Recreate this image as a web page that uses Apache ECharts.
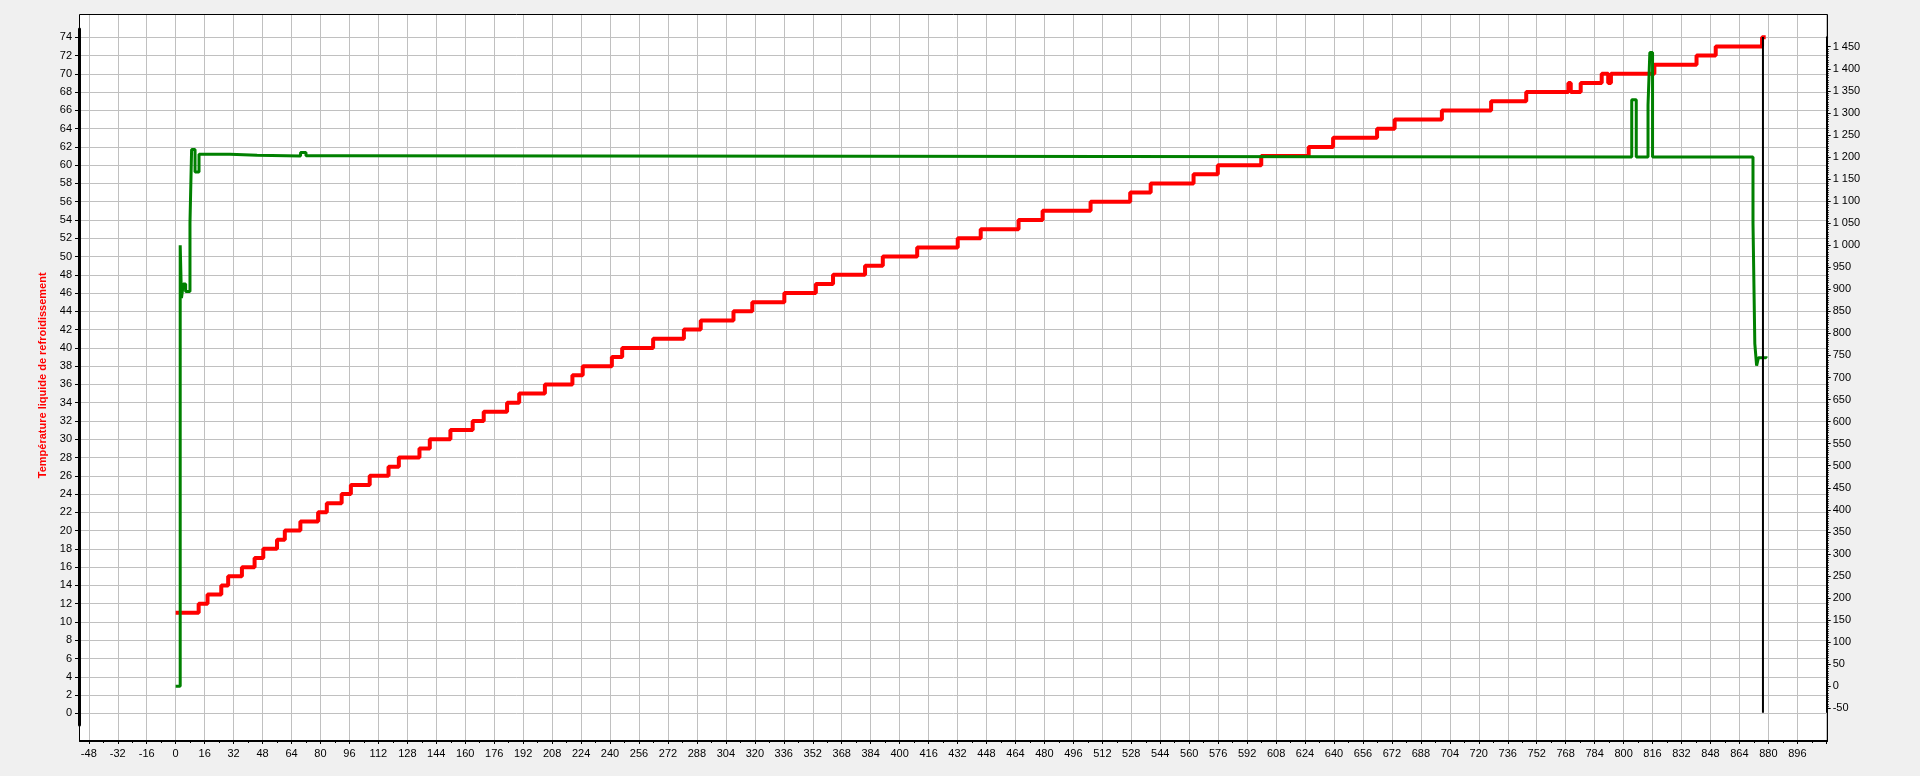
<!DOCTYPE html>
<html><head><meta charset="utf-8">
<script src="https://cdn.jsdelivr.net/npm/echarts@6/dist/echarts.min.js"></script>
<style>html,body{margin:0;padding:0;background:#f0f0f0;}#c{width:1920px;height:776px;}</style>
</head><body><div id="c"></div><script>
// ---- data ----
// Coolant temperature (left axis, °C), step transitions: time -> new value
const redTime = [0, 12.7, 17.6, 25.2, 29.0, 36.6, 43.6, 48.4, 56.0, 60.3, 68.9, 78.7, 83.5, 91.7, 96.8, 107.2, 117.6, 123.3, 134.7, 140.4, 151.8, 164.1, 170.2, 183.1, 189.8, 204.0, 219.2, 224.9, 241.0, 246.7, 263.8, 280.8, 290.1, 308.2, 318.6, 336.3, 353.7, 363.2, 380.9, 390.7, 409.7, 432.1, 444.8, 465.7, 479.0, 505.5, 527.4, 538.7, 562.4, 575.8, 599.8, 626.0, 639.5, 663.8, 673.5, 699.6, 726.8, 746.2, 769.5, 770.8, 776.3, 787.9, 791.5, 793.0, 817.0, 840.3, 850.9, 876.5, 878.5];
const redTemp = [11, 12, 13, 14, 15, 16, 17, 18, 19, 20, 21, 22, 23, 24, 25, 26, 27, 28, 29, 30, 31, 32, 33, 34, 35, 36, 37, 38, 39, 40, 41, 42, 43, 44, 45, 46, 47, 48, 49, 50, 51, 52, 53, 54, 55, 56, 57, 58, 59, 60, 61, 62, 63, 64, 65, 66, 67, 68, 69, 68, 69, 70, 69, 70, 71, 72, 73, 74, 74];
// Engine speed (right axis), step transitions
const greenTime = [0, 2.5, 3.2, 4.2, 5.5, 7.9, 8.8, 10.7, 12.9, 30, 45, 69, 72, 90, 804.5, 807, 813.5, 814.5, 816, 871.5, 872.5, 873.5, 874.5, 878.7];
const greenRpm = [0, 1000, 880, 912, 895, 1050, 1217, 1166, 1206, 1204, 1202, 1210, 1203, 1200, 1330, 1200, 1318, 1437, 1200, 1050, 777, 727, 745, 748];
// Cursor line
const cursorTime = [877, 877];
const cursorRpm = [-60, 1472];
// Axis ranges / tick steps
const xMin = -48, xMax = 912, xStep = 16;
const leftMin = 0, leftMax = 74, leftStep = 2;
const rightMin = -50, rightMax = 1450, rightStep = 50;
const leftTitle = 'Température liquide de refroidissement';

const FONT = '"Liberation Sans", Arial, sans-serif';
const zip = (a, b) => a.map((v, i) => [v, b[i]]);
const hid = (g, min, max) => ({ gridIndex: g, type: 'value', min: min, max: max, show: false });
const thousands = v => String(v).replace(/\B(?=(\d{3})+(?!\d))/g, ' ');

const chart = echarts.init(document.getElementById('c'), null, { renderer: 'canvas' });
chart.setOption({
  animation: false,
  backgroundColor: '#f0f0f0',
  grid: [
    { left: 80, top: 15, right: 93, bottom: 35, show: true, backgroundColor: '#ffffff', borderWidth: 0, z: -5, containLabel: false, outerBoundsMode: 'none' }, // 0 frame bg
    { left: 88.8, right: 93.7, top: 15, bottom: 35, containLabel: false, outerBoundsMode: 'none' },   // 1 x axis + vertical grid
    { left: 80, right: 93, top: 37.3, bottom: 62.7, containLabel: false, outerBoundsMode: 'none' },    // 2 left axis + horizontal grid
    { left: 79, right: 93, top: 29, bottom: 51, containLabel: false, outerBoundsMode: 'none' },        // 3 left axis line
    { left: 88.8, right: 93.3, top: 46.7, bottom: 67.7, containLabel: false, outerBoundsMode: 'none' }, // 4 right axis labels
    { left: 88.8, right: 93.3, top: 37.3, bottom: 64, containLabel: false, outerBoundsMode: 'none' },  // 5 right axis line
    { left: 88.8, right: 93.7, top: 37.3, bottom: 62.7, containLabel: false, outerBoundsMode: 'none' }, // 6 red data
    { left: 88.8, right: 93.7, top: 46.7, bottom: 67.7, containLabel: false, outerBoundsMode: 'none' }, // 7 green data
    { left: 79.5, top: 14.5, right: 92.5, bottom: 34.5, show: true, backgroundColor: 'transparent', borderColor: '#000', borderWidth: 1, z: 5, containLabel: false, outerBoundsMode: 'none' } // 8 frame border
  ],
  xAxis: [
    { gridIndex: 0, type: 'value', min: 0, max: 1, position: 'bottom',
      axisLine: { show: true, onZero: false, lineStyle: { color: '#000', width: 2 } },
      axisTick: { show: false }, axisLabel: { show: false }, splitLine: { show: false } },
    { gridIndex: 1, type: 'value', min: xMin, max: xMax, interval: xStep, position: 'bottom',
      axisLine: { show: false, onZero: false },
      axisTick: { show: true, length: 3, lineStyle: { color: '#000' } },
      minorTick: { show: true, splitNumber: 2, length: 2, lineStyle: { color: '#000' } },
      axisLabel: { color: '#000', fontSize: 11, fontFamily: FONT, margin: 7, showMaxLabel: false },
      splitLine: { show: true, lineStyle: { color: '#c0c0c0', width: 1 } } },
    hid(2, 0, 1), hid(3, 0, 1), hid(4, xMin, xMax), hid(5, 0, 1),
    hid(6, xMin, xMax), hid(7, xMin, xMax), hid(8, 0, 1)
  ],
  yAxis: [
    hid(0, 0, 1), hid(1, 0, 1),
    { gridIndex: 2, type: 'value', min: leftMin, max: leftMax, interval: leftStep, position: 'left',
      axisLine: { show: false, onZero: false },
      axisTick: { show: true, length: 5, lineStyle: { color: '#000' } },
      axisLabel: { color: '#000', fontSize: 11, fontFamily: FONT, margin: 8 },
      splitLine: { show: true, lineStyle: { color: '#c0c0c0', width: 1 } },
      name: leftTitle, nameLocation: 'middle', nameGap: 26,
      nameTextStyle: { color: '#ff0000', fontWeight: 'bold', fontSize: 11, fontFamily: FONT } },
    { gridIndex: 3, type: 'value', min: 0, max: 1, position: 'left',
      axisLine: { show: true, onZero: false, lineStyle: { color: '#000', width: 3 } },
      axisTick: { show: false }, axisLabel: { show: false }, splitLine: { show: false } },
    { gridIndex: 4, type: 'value', min: rightMin, max: rightMax, interval: rightStep, position: 'right',
      axisLine: { show: false, onZero: false },
      axisTick: { show: true, length: 4, lineStyle: { color: '#000' } },
      minorTick: { show: true, splitNumber: 10, length: 2, lineStyle: { color: '#000' } },
      axisLabel: { color: '#000', fontSize: 11, fontFamily: FONT, margin: 6, formatter: thousands },
      splitLine: { show: false } },
    { gridIndex: 5, type: 'value', min: 0, max: 1, position: 'right',
      axisLine: { show: true, onZero: false, lineStyle: { color: '#000', width: 2 } },
      axisTick: { show: false }, axisLabel: { show: false }, splitLine: { show: false } },
    hid(6, leftMin, leftMax), hid(7, rightMin, rightMax), hid(8, 0, 1)
  ],
  series: [
    { name: 'Température', type: 'line', xAxisIndex: 6, yAxisIndex: 6, step: 'end',
      data: zip(redTime, redTemp), symbol: 'none', clip: false, z: 2,
      lineStyle: { color: '#ff0000', width: 4 } },
    { name: 'Régime', type: 'line', xAxisIndex: 7, yAxisIndex: 7, step: 'end',
      data: zip(greenTime, greenRpm), symbol: 'none', clip: false, z: 3,
      lineStyle: { color: '#008000', width: 3 } },
    { name: 'Curseur', type: 'line', xAxisIndex: 7, yAxisIndex: 7,
      data: zip(cursorTime, cursorRpm), symbol: 'none', clip: false, z: 4,
      lineStyle: { color: '#000000', width: 2 } }
  ]
});
</script></body></html>
